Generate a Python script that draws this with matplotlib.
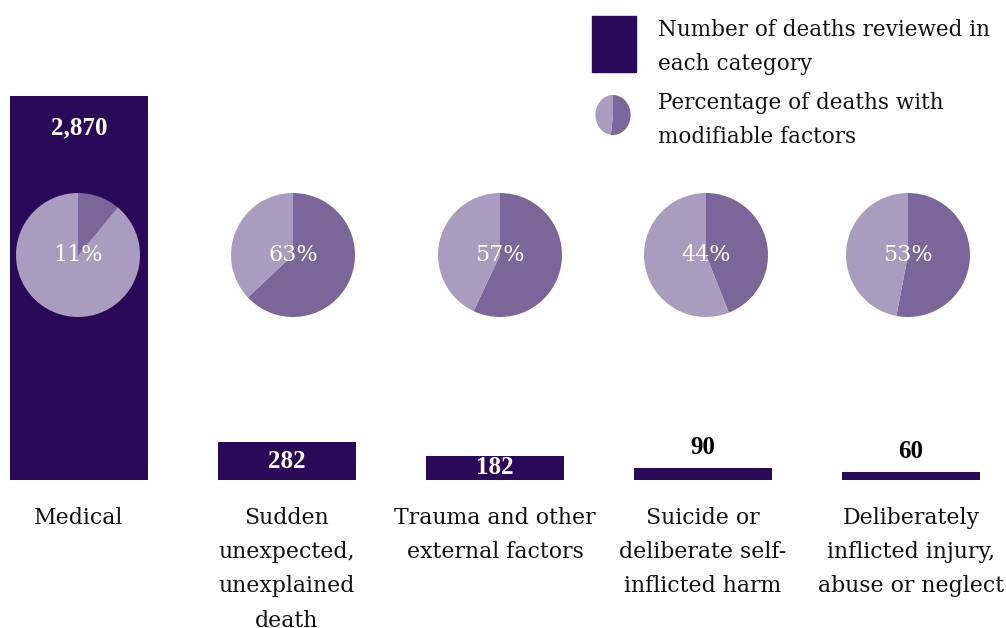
import matplotlib
matplotlib.use("Agg")
import matplotlib.pyplot as plt
from matplotlib.patches import Rectangle

categories = ["Medical", "Sudden\nunexpected,\nunexplained\ndeath", "Trauma and other\nexternal factors",
              "Suicide or\ndeliberate self-\ninflicted harm", "Deliberately\ninflicted injury,\nabuse or neglect"]
deaths = [2870, 282, 182, 90, 60]
modifiable_pct = [11, 63, 57, 44, 53]

legend_bar_text = "Number of deaths reviewed in\neach category"
legend_pie_text = "Percentage of deaths with\nmodifiable factors"
legend_pie_pct = 52

BAR = "#2a0a58"
DARK = "#7a6699"
LIGHT = "#a99cbf"
FONT = "DejaVu Serif"
NUMFONT = "Liberation Serif"

W, H = 1006, 628
fig = plt.figure(figsize=(W / 100, H / 100), dpi=100)
plt.rcParams['font.family'] = FONT


def px_axes(x0, y0, w, h):
    # pixel box (top-left origin) -> figure axes
    return fig.add_axes([x0 / W, 1 - (y0 + h) / H, w / W, h / H])


# main bar axes: bottom at pixel 480, scale 384 px for 2870
base_y = 480
scale = 384 / 2870
ax = px_axes(0, 0, W, base_y)
ax.set_xlim(-79 / 208, (W - 79) / 208)
ax.set_ylim(0, base_y / scale)
ax.axis("off")

x = list(range(len(categories)))
ax.bar(x, deaths, width=0.663, color=BAR)

numkw = dict(ha="center", va="center", fontsize=18, fontweight="bold", family=NUMFONT)
for i, v in enumerate(deaths):
    lbl = f"{v:,}"
    if v >= 1000:
        ax.annotate(lbl, (i, v), xytext=(0, -32), textcoords="offset pixels", color="white", **numkw)
    elif v >= 150:
        ax.text(i, v / 2, lbl, color="white", **numkw)
    else:
        ax.annotate(lbl, (i, v), xytext=(0, 20), textcoords="offset pixels", color="black", **numkw)

for i, c in enumerate(categories):
    ax.annotate(c, (i, 0), xytext=(0, -27), textcoords="offset pixels", ha="center", va="top",
                fontsize=15.8, linespacing=1.72, color="#111111", annotation_clip=False)

# pies
pie_cx = [78, 293, 500, 706, 908]
pie_cy = 255
r = 62
for cx, p in zip(pie_cx, modifiable_pct):
    pa = px_axes(cx - r, pie_cy - r, 2 * r, 2 * r)
    pa.pie([p, 100 - p], startangle=90, counterclock=False, colors=[DARK, LIGHT], radius=1.0)
    pa.set_xlim(-1, 1)
    pa.set_ylim(-1, 1)
    pa.text(0, 0, f"{p}%", ha="center", va="center", color="white", fontsize=16)

# legend
lg = px_axes(0, 0, W, H)
lg.set_xlim(0, W)
lg.set_ylim(H, 0)
lg.axis("off")
lg.add_patch(Rectangle((592, 16), 44, 56, color=BAR))
lg.text(658, 47, legend_bar_text, ha="left", va="center", fontsize=15.5, linespacing=1.72, color="#111111")
lg.text(658, 120, legend_pie_text, ha="left", va="center", fontsize=15.5, linespacing=1.72, color="#111111")
ipa = px_axes(613 - 22, 115 - 25, 44, 50)
ipa.pie([legend_pie_pct, 100 - legend_pie_pct], startangle=90, counterclock=False, colors=[DARK, LIGHT])
ipa.set_aspect("auto")

fig.savefig("out.png", dpi=100)
